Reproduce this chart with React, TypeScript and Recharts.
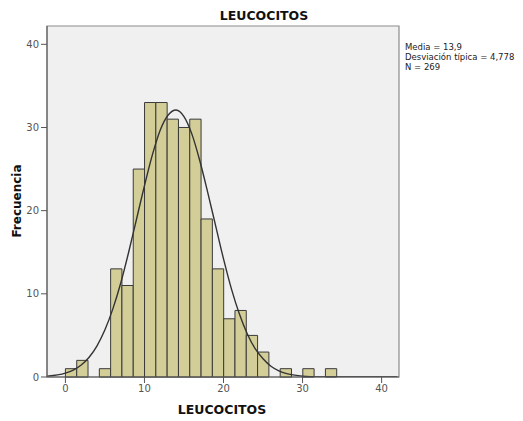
import { ComposedChart, XAxis, YAxis, Line, ReferenceArea } from 'recharts'

// histogram bins (SPSS style): start, width and counts per bin
const BIN_START = 0
const BIN_WIDTH = 1.43
const counts = [1, 2, 0, 1, 13, 11, 25, 33, 33, 31, 30, 31, 19, 13, 7, 8, 5, 3, 0, 1, 0, 1, 0, 1]

// normal curve (mean 13,9 / sd 4,778 / N 269)
const curveX = [-2.3, -1, 0, 1, 2, 3, 4, 5, 6, 7, 8, 9, 10, 11, 12, 13, 14, 15, 16, 17, 18, 19, 20, 21, 22, 23, 24, 25, 26, 27, 28, 29, 30, 31, 32, 34, 36, 38, 40, 42]
const curveY = [0.1, 0.25, 0.47, 0.84, 1.44, 2.38, 3.75, 5.67, 8.19, 11.3, 15, 19, 23, 26.7, 29.7, 31.5, 32.1, 31.3, 29.2, 26, 22.2, 18.2, 14.2, 10.6, 7.6, 5.2, 3.4, 2.2, 1.3, 0.75, 0.41, 0.22, 0.11, 0.05, 0.02, 0, 0, 0, 0, 0]

const xTicks = [0, 10, 20, 30, 40]
const yTicks = [0, 10, 20, 30, 40]
const statLines = ['Media = 13,9', 'Desviación típica = 4,778', 'N = 269']

const X_DOMAIN: [number, number] = [-2.33, 42.2]
const Y_DOMAIN: [number, number] = [0, 42.2]

const curveData = curveX.map((x, i) => ({ x, y: curveY[i] }))

const tickStyle = { fill: '#555', fontSize: 10, fontFamily: 'DejaVu Sans' }
const boldLabel = {
  position: 'absolute' as const,
  fontFamily: 'DejaVu Sans',
  fontWeight: 700,
  fontSize: 12,
  color: '#111',
  whiteSpace: 'nowrap' as const,
}

export default function App() {
  return (
    <div style={{ position: 'absolute', left: 0, top: 0, width: 523, height: 421, background: '#fff' }}>
      <ComposedChart
        width={523}
        height={421}
        data={curveData}
        margin={{ top: 26, right: 124, bottom: 0, left: 0 }}
      >
        <XAxis
          type="number"
          dataKey="x"
          domain={X_DOMAIN}
          ticks={xTicks}
          allowDataOverflow
          height={44}
          tick={tickStyle}
          tickSize={6}
          stroke="#555"
        />
        <YAxis
          type="number"
          domain={Y_DOMAIN}
          ticks={yTicks}
          allowDataOverflow
          width={47}
          tick={tickStyle}
          tickSize={6}
          stroke="#555"
        />
        <ReferenceArea
          x1={X_DOMAIN[0]}
          x2={X_DOMAIN[1]}
          y1={Y_DOMAIN[0]}
          y2={Y_DOMAIN[1]}
          fill="#f0f0f0"
          fillOpacity={1}
          stroke="#8c8c8c"
          strokeWidth={1.2}
        />
        {counts.map((c, i) =>
          c > 0 ? (
            <ReferenceArea
              key={i}
              x1={BIN_START + i * BIN_WIDTH}
              x2={BIN_START + (i + 1) * BIN_WIDTH}
              y1={0}
              y2={c}
              fill="#d3ce97"
              fillOpacity={1}
              stroke="#3a3a3a"
              strokeWidth={1}
            />
          ) : null
        )}
        <Line
          dataKey="y"
          type="monotone"
          stroke="#333"
          strokeWidth={1.4}
          dot={false}
          activeDot={false}
          isAnimationActive={false}
        />
      </ComposedChart>

      <div style={{ ...boldLabel, left: 264, top: 15, transform: 'translate(-50%, -50%)', fontSize: 12.5 }}>
        LEUCOCITOS
      </div>
      <div style={{ ...boldLabel, left: 222, top: 409, transform: 'translate(-50%, -50%)', fontSize: 12.5 }}>
        LEUCOCITOS
      </div>
      <div style={{ ...boldLabel, left: 17, top: 201, transform: 'translate(-50%, -50%) rotate(-90deg)' }}>
        Frecuencia
      </div>
      <div
        style={{
          position: 'absolute',
          left: 405,
          top: 42,
          fontFamily: 'DejaVu Sans',
          fontSize: 8.5,
          lineHeight: '10px',
          color: '#222',
          whiteSpace: 'nowrap',
        }}
      >
        {statLines.map((s) => (
          <div key={s}>{s}</div>
        ))}
      </div>
    </div>
  )
}
